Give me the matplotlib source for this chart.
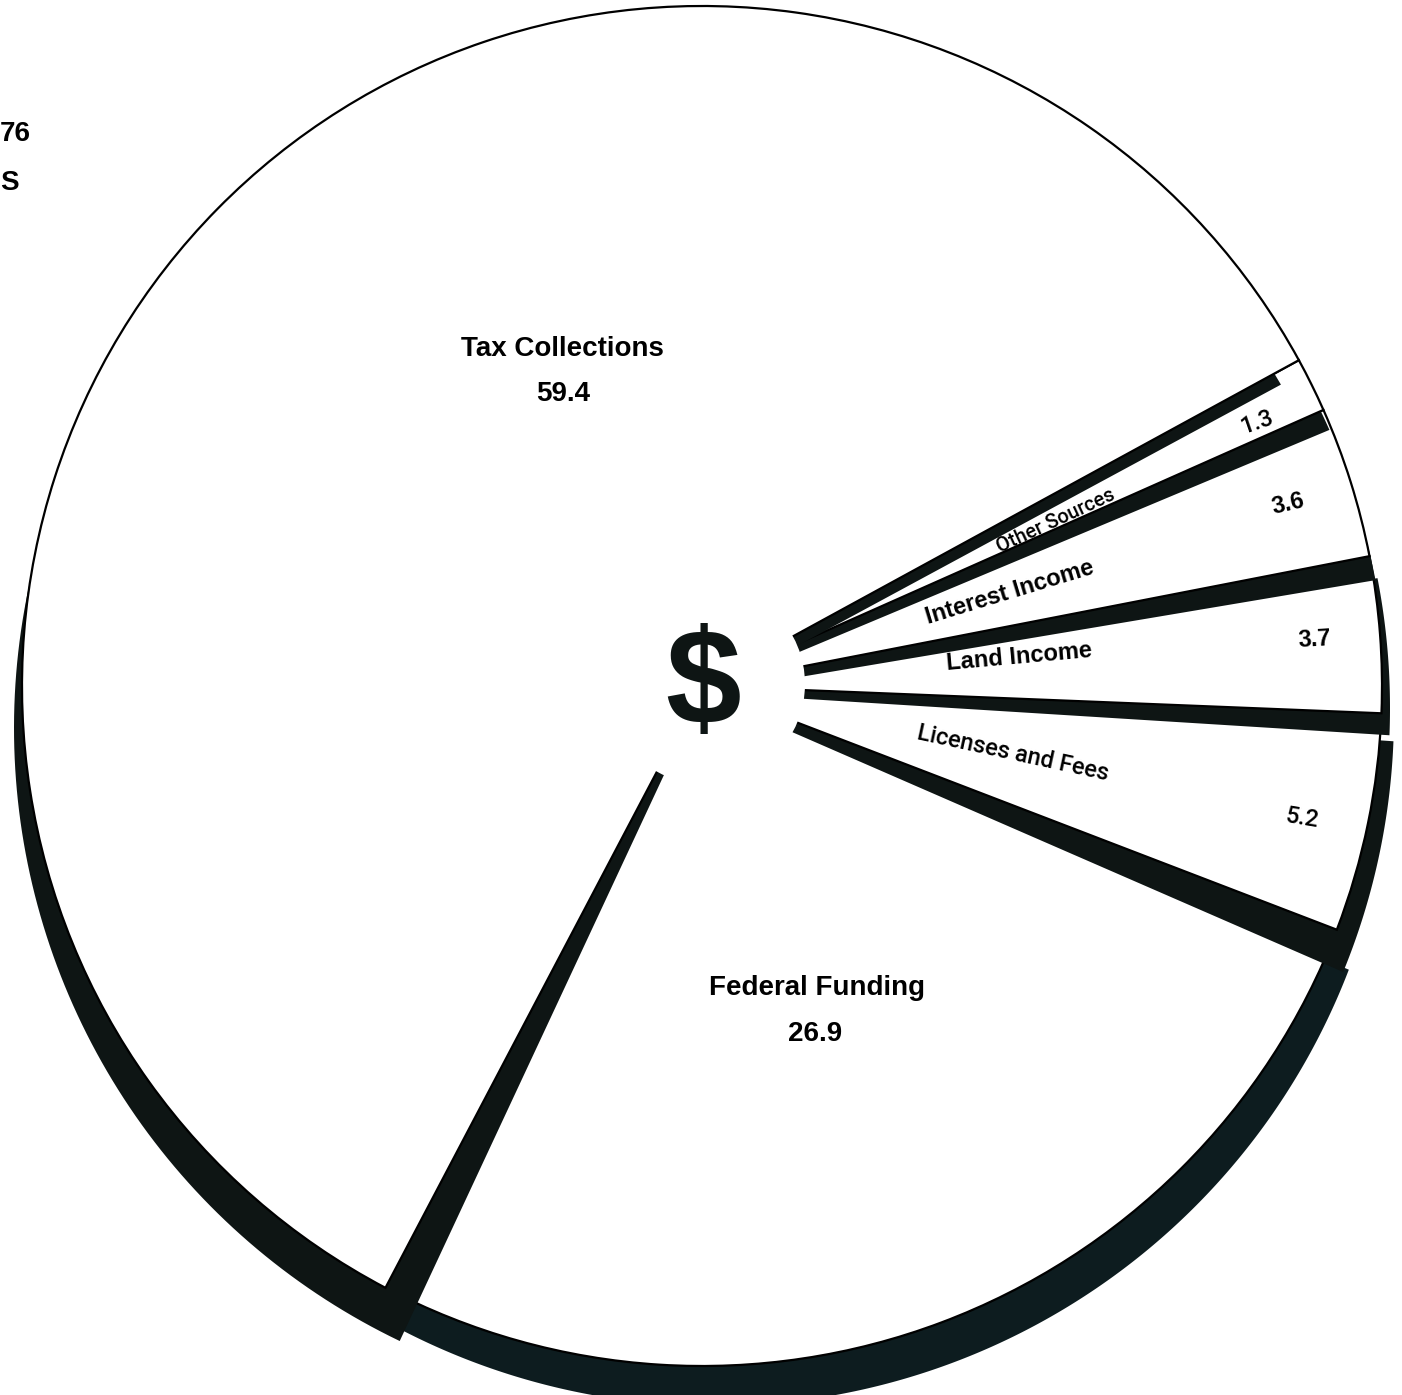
import numpy as np
import matplotlib
matplotlib.use("Agg")
import matplotlib.pyplot as plt
from matplotlib.patches import Polygon, Circle

plt.rcParams['font.family'] = ['Liberation Sans', 'DejaVu Sans']

# ============================================================
# Revenue sources (percent of total), counter-clockwise from lower right
# ============================================================
sources = ["Licenses and Fees", "Land Income", "Interest Income",
           "Other Sources", "Tax Collections", "Federal Funding"]
shares = [5.2, 3.7, 3.6, 1.3, 59.4, 26.9]
share_text = ["5.2", "3.7", "3.6", "1.3", "59.4", "26.9"]

# --- layout / style (pixel units, y up) ---
W, H = 1402, 1395
CX, CY, R = 702, 709, 680
START = -21
INK = '#0e1514'

# drop-wall of each slice: shift of the outer rim, extra spread cw / ccw (deg)
wall_shift = [(12, -28), (8, -22), (6, -24), (6, -20), (-8, -42), (12, -40)]
wall_cw = [1.3, 0, 0, 0, -1.7, 0]
wall_ccw = [0, 0, 0, 0, 2.1, 0]
wall_color = [INK, INK, INK, INK, INK, '#0d1c1f']
stack = [5, 0, 1, 2, 3, 4]          # federal at the bottom, tax on top


def wall(theta1, theta2, shift, cw, ccw):
    t = np.radians(np.linspace(theta1 - cw, theta2 + ccw, 240))
    pts = np.vstack([[0, 0], np.column_stack([R * np.cos(t), R * np.sin(t)]), [0, 0]])
    k = 0.3 + 0.7 * np.hypot(pts[:, 0], pts[:, 1]) / R
    pts = pts + k[:, None] * np.array(shift, dtype=float)
    return pts + [CX, CY]


fig = plt.figure(figsize=(W / 100, H / 100), dpi=100)
ax = fig.add_axes([0, 0, 1, 1])

wedges, _ = ax.pie(shares, startangle=START, counterclock=True,
                   center=(CX, CY), radius=R,
                   wedgeprops=dict(facecolor='white', edgecolor='black', linewidth=1.6))

for level, i in enumerate(stack):
    w = wedges[i]
    w.set_zorder(2 + 2 * level)
    ax.add_patch(Polygon(wall(w.theta1, w.theta2, wall_shift[i], wall_cw[i], wall_ccw[i]),
                         closed=True, facecolor=wall_color[i], edgecolor='none',
                         zorder=1 + 2 * level))

# hub around the dollar sign
ax.add_patch(Circle((CX + 3, CY + 2), 100, facecolor='white', edgecolor='none', zorder=30))
ax.text(703, 706, "$", fontsize=98, fontweight='bold', ha='center', va='center',
        color=INK, zorder=31)

# ============================================================
# Labels on the small slices
# ============================================================
heavy = [False, True, True, False]
name_r = [318, 318, 322, 390]
name_off = [-0.6, 0.8, -0.6, -1.3]     # deg from slice middle
name_size = [17, 17, 17, 14.5]
value_off = [-0.8, 0.0, -0.2, -0.9]
for i in range(4):
    w = wedges[i]
    mid = 0.5 * (w.theta1 + w.theta2)
    style = dict(fontweight='bold') if heavy[i] else dict(family=['Roboto', 'DejaVu Sans'], fontweight=500)

    an = mid + name_off[i]
    a = np.radians(an)
    ax.text(CX + name_r[i] * np.cos(a), CY + name_r[i] * np.sin(a), sources[i],
            fontsize=name_size[i], rotation=an, rotation_mode='anchor',
            ha='center', va='center', zorder=40, **style)

    av = mid + value_off[i]
    a = np.radians(av)
    rv = 614
    ax.text(CX + rv * np.cos(a), CY + rv * np.sin(a), share_text[i], fontsize=17,
            rotation=0.75 * av, rotation_mode='anchor', ha='center', va='center',
            zorder=40, **style)

big = dict(fontsize=20, fontweight='bold', ha='center', va='center', zorder=40)
ax.text(562, 1046, sources[4], **big)
ax.text(563, 1001, share_text[4], **big)
ax.text(817, 407, sources[5], **big)
ax.text(815, 361, share_text[5], **big)

# heading at the page edge
ax.text(0, 1261, "76", fontsize=20, fontweight='bold', ha='left', va='center')
ax.text(0, 1212, "S", fontsize=20, fontweight='bold', ha='left', va='center')

ax.set_xlim(0, W)
ax.set_ylim(0, H)
ax.set_aspect('equal')
ax.axis('off')

fig.savefig('out.png', dpi=100, facecolor='white')
plt.close('all')
print("saved out.png")
